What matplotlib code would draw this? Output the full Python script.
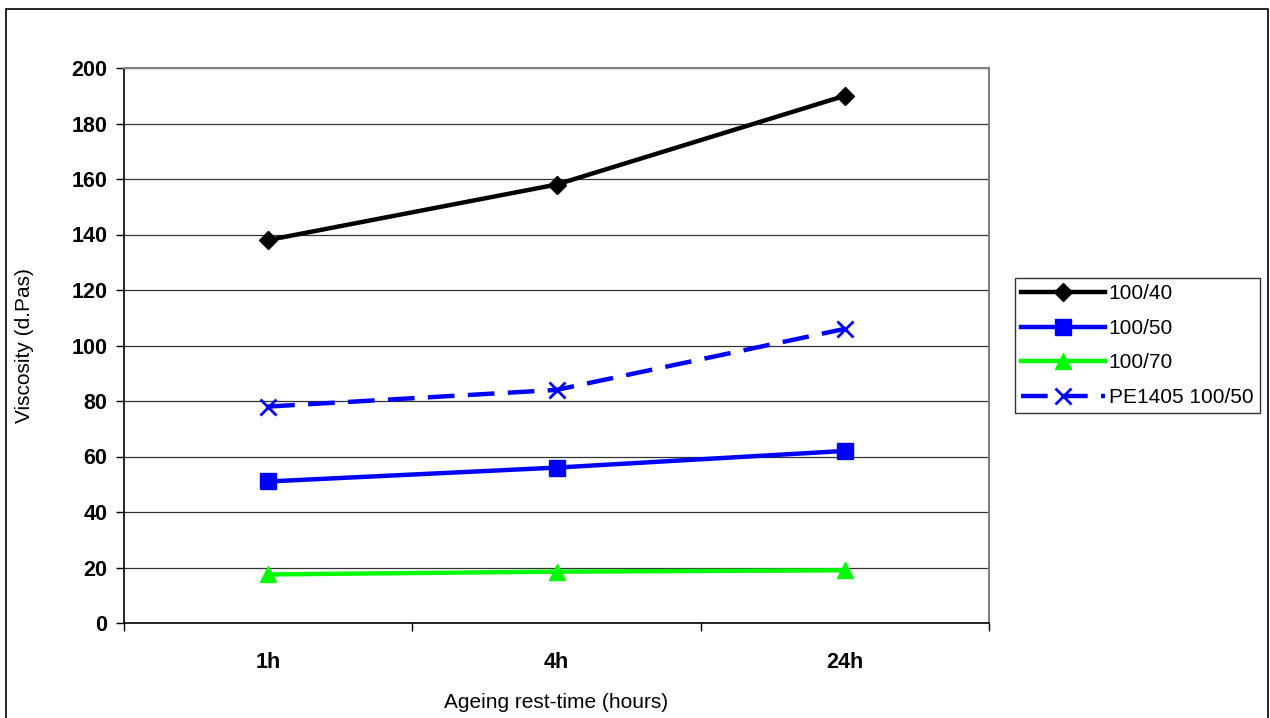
import matplotlib
matplotlib.use("Agg")
import matplotlib.pyplot as plt
from matplotlib.patches import Rectangle

plt.rcParams['font.family'] = ['Liberation Sans', 'DejaVu Sans']

categories = ["1h", "4h", "24h"]
s_100_40 = [138, 158, 190]
s_100_50 = [51, 56, 62]
s_100_70 = [17.5, 18.5, 19]
s_pe1405 = [78, 84, 106]
y_ticks = [0, 20, 40, 60, 80, 100, 120, 140, 160, 180, 200]

W, H = 1270, 718
fig = plt.figure(figsize=(W / 100, H / 100), dpi=100)
ax = fig.add_axes([124 / W, 95 / H, (989 - 124) / W, (623 - 68) / H])

x = list(range(len(categories)))
ax.plot(x, s_100_40, color='black', lw=3.2, marker='D', ms=9, label='100/40')
ax.plot(x, s_100_50, color='#0000ff', lw=3.2, marker='s', ms=11, label='100/50')
ax.plot(x, s_100_70, color='#00ff00', lw=3.2, marker='^', ms=11, label='100/70')
ax.plot(x, s_pe1405, color='#0000ff', lw=3.2, marker='x', ms=11, mew=2,
        dashes=(6, 3), label='PE1405 100/50')

ax.set_xlim(-0.5, len(categories) - 0.5)
ax.set_ylim(0, 200)
ax.set_yticks(y_ticks)
ax.yaxis.grid(True, color='#333333', lw=0.9)
ax.set_axisbelow(True)

ax.set_xticks(x)
ax.set_xticklabels(categories, fontsize=15.5, fontweight='bold')
ax.set_xticks([i - 0.5 for i in range(len(categories) + 1)], minor=True)
ax.tick_params(axis='x', which='major', length=0, pad=21)
ax.tick_params(axis='x', which='minor', direction='out', length=6, width=1)
ax.tick_params(axis='y', direction='out', length=6, width=1, labelsize=15.5, pad=6)
for lab in ax.get_yticklabels():
    lab.set_fontweight('bold')

for side in ['top', 'right']:
    ax.spines[side].set_color('#808080')
    ax.spines[side].set_linewidth(1.5)
for side in ['left', 'bottom']:
    ax.spines[side].set_color('black')
    ax.spines[side].set_linewidth(1.2)

# axis titles placed like the original Excel layout
fig.text(25 / W, 1 - (68 + 623) / 2 / H, 'Viscosity (d.Pas)', fontsize=15,
         rotation=90, ha='center', va='center')
fig.text((124 + 989) / 2 / W, 15 / H, 'Ageing rest-time (hours)',
         fontsize=15, ha='center', va='center')

leg = fig.legend(loc='upper left', bbox_to_anchor=(1015 / W, 1 - 278 / H),
                 fontsize=15, frameon=True, fancybox=False, edgecolor='black',
                 handlelength=4.0, handletextpad=0.2, borderpad=0.3,
                 labelspacing=0.75, borderaxespad=0)
leg.get_frame().set_linewidth(1)

fig.patches.append(Rectangle((6 / W, -0.01), (1268 - 6) / W, 1 - 9 / H + 0.01,
                             transform=fig.transFigure, fill=False,
                             edgecolor='black', lw=1.2))

fig.savefig('out.png', dpi=100)
